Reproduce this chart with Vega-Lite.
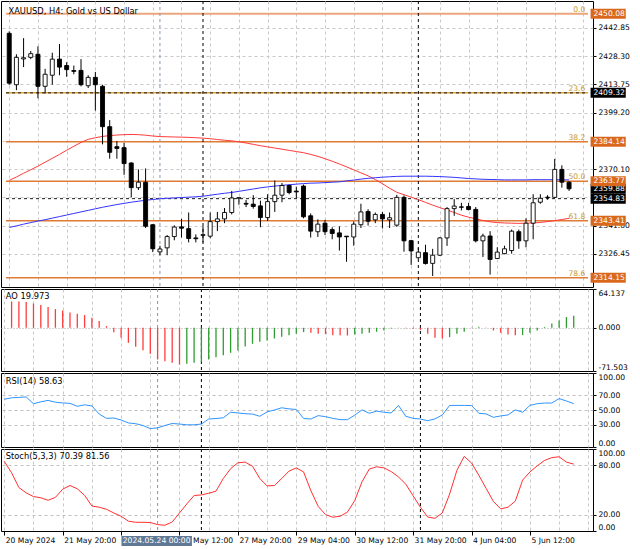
{
"$schema": "https://vega.github.io/schema/vega-lite/v6.json",
"padding": 0,
"background": "#ffffff",
"spacing": 2,
"bounds": "flush",
"config": {
 "view": {"stroke": "#000000", "strokeWidth": 1},
 "axis": {"labelFont": "DejaVu Sans", "labelFontSize": 7.6, "labelColor": "#000000", "gridColor": "#c8c8c8", "gridDash": [3,3], "gridWidth": 1, "tickColor": "#000000", "domain": false, "labelOverlap": false},
 "text": {"font": "DejaVu Sans"}
},
"datasets": {
 "bars": [
{"i":0,"o":2440.0,"h":2441.0,"l":2413.5,"c":2414.3,"mr":2364.2,"mb":2340.0,"rsi":64.5,"st":85},
{"i":1,"o":2413.5,"h":2429.2,"l":2410.7,"c":2427.6,"mr":2366.0,"mb":2340.8,"ao":43.5,"ad":"r","rsi":66.5,"st":71},
{"i":2,"o":2426.8,"h":2437.5,"l":2422.6,"c":2427.4,"mr":2367.9,"mb":2341.7,"ao":43.3,"ad":"r","rsi":67,"st":53},
{"i":3,"o":2427.6,"h":2430.9,"l":2426.7,"c":2429.5,"mr":2369.7,"mb":2342.5,"ao":42.5,"ad":"r","rsi":67.7,"st":46.5},
{"i":4,"o":2429.2,"h":2433.3,"l":2406.5,"c":2412.7,"mr":2371.6,"mb":2343.3,"ao":40.0,"ad":"r","rsi":58.5,"st":42},
{"i":5,"o":2412.7,"h":2421.7,"l":2409.0,"c":2418.9,"mr":2373.6,"mb":2344.0,"ao":37.6,"ad":"r","rsi":61,"st":40.5},
{"i":6,"o":2418.4,"h":2430.0,"l":2413.5,"c":2426.7,"mr":2375.6,"mb":2344.8,"ao":34.3,"ad":"r","rsi":63,"st":37.5},
{"i":7,"o":2426.7,"h":2434.5,"l":2418.4,"c":2422.6,"mr":2377.6,"mb":2345.6,"ao":30.9,"ad":"r","rsi":60.5,"st":41},
{"i":8,"o":2423.4,"h":2425.1,"l":2417.6,"c":2421.3,"mr":2379.8,"mb":2346.4,"ao":28.7,"ad":"r","rsi":59.5,"st":51},
{"i":9,"o":2420.8,"h":2423.4,"l":2418.9,"c":2420.4,"mr":2381.8,"mb":2347.2,"ao":25.4,"ad":"r","rsi":59,"st":55.5},
{"i":10,"o":2420.9,"h":2426.7,"l":2412.7,"c":2413.5,"mr":2383.8,"mb":2348.0,"ao":23.2,"ad":"r","rsi":55,"st":51.5},
{"i":11,"o":2413.0,"h":2418.4,"l":2411.8,"c":2417.3,"mr":2385.4,"mb":2348.8,"ao":21.0,"ad":"r","rsi":57,"st":43.5},
{"i":12,"o":2417.3,"h":2420.1,"l":2400.2,"c":2413.5,"mr":2386.2,"mb":2349.6,"ao":16.6,"ad":"r","rsi":55.5,"st":30.5},
{"i":13,"o":2412.7,"h":2413.5,"l":2382.8,"c":2391.9,"mr":2386.9,"mb":2350.4,"ao":11.0,"ad":"r","rsi":44.5,"st":29},
{"i":14,"o":2391.9,"h":2395.3,"l":2375.4,"c":2378.7,"mr":2387.3,"mb":2351.1,"ao":2.8,"ad":"r","rsi":38.7,"st":26.5},
{"i":15,"o":2381.6,"h":2384.5,"l":2375.4,"c":2380.7,"mr":2387.6,"mb":2351.8,"ao":-7.2,"ad":"r","rsi":39.2,"st":22},
{"i":16,"o":2381.1,"h":2383.6,"l":2367.1,"c":2372.9,"mr":2387.8,"mb":2352.4,"ao":-16.6,"ad":"r","rsi":36.5,"st":18},
{"i":17,"o":2373.2,"h":2373.6,"l":2355.5,"c":2360.5,"mr":2387.9,"mb":2353.0,"ao":-24.9,"ad":"r","rsi":32.5,"st":12},
{"i":18,"o":2360.5,"h":2369.9,"l":2359.3,"c":2363.3,"mr":2387.8,"mb":2353.5,"ao":-31.5,"ad":"r","rsi":31.5,"st":10.6},
{"i":19,"o":2363.3,"h":2370.4,"l":2339.7,"c":2340.6,"mr":2387.5,"mb":2354.0,"ao":-37.0,"ad":"r","rsi":29,"st":10.6},
{"i":20,"o":2341.4,"h":2341.8,"l":2327.3,"c":2329.0,"mr":2387.1,"mb":2354.4,"ao":-43.1,"ad":"r","rsi":24.9,"st":10.4},
{"i":21,"o":2327.4,"h":2330.6,"l":2325.7,"c":2328.9,"mr":2386.8,"mb":2354.8,"ao":-52.5,"ad":"r","rsi":25.9,"st":7.8},
{"i":22,"o":2329.5,"h":2336.1,"l":2325.7,"c":2335.3,"mr":2386.7,"mb":2355.0,"ao":-55.2,"ad":"r","rsi":29,"st":7},
{"i":23,"o":2335.3,"h":2341.1,"l":2333.4,"c":2340.2,"mr":2386.6,"mb":2355.2,"ao":-58.0,"ad":"r","rsi":31.8,"st":11},
{"i":24,"o":2340.3,"h":2344.4,"l":2334.8,"c":2339.6,"mr":2386.5,"mb":2355.4,"ao":-60.8,"ad":"r","rsi":31,"st":22},
{"i":25,"o":2339.4,"h":2347.7,"l":2332.3,"c":2334.3,"mr":2386.4,"mb":2355.6,"ao":-59.7,"ad":"g","rsi":30,"st":33},
{"i":26,"o":2334.6,"h":2336.4,"l":2332.3,"c":2334.2,"mr":2386.2,"mb":2355.8,"ao":-58.0,"ad":"g","rsi":30,"st":43.3},
{"i":27,"o":2335.9,"h":2340.6,"l":2332.3,"c":2336.3,"mr":2386.0,"mb":2356.1,"ao":-56.4,"ad":"g","rsi":31,"st":44},
{"i":28,"o":2335.5,"h":2347.7,"l":2334.4,"c":2343.0,"mr":2385.7,"mb":2356.6,"ao":-52.5,"ad":"g","rsi":37.8,"st":46},
{"i":29,"o":2343.0,"h":2348.0,"l":2338.1,"c":2344.4,"mr":2385.3,"mb":2357.1,"ao":-48.6,"ad":"g","rsi":38.5,"st":48.6},
{"i":30,"o":2344.4,"h":2350.0,"l":2342.2,"c":2347.7,"mr":2384.9,"mb":2357.6,"ao":-45.3,"ad":"g","rsi":39.5,"st":64},
{"i":31,"o":2347.7,"h":2358.8,"l":2346.7,"c":2355.2,"mr":2384.6,"mb":2358.0,"ao":-41.4,"ad":"g","rsi":47,"st":76},
{"i":32,"o":2355.1,"h":2355.4,"l":2351.7,"c":2355.3,"mr":2384.1,"mb":2358.6,"ao":-37.6,"ad":"g","rsi":46,"st":83.2},
{"i":33,"o":2352.4,"h":2354.2,"l":2350.5,"c":2352.0,"mr":2383.5,"mb":2359.2,"ao":-30.9,"ad":"g","rsi":45,"st":84},
{"i":34,"o":2352.0,"h":2356.6,"l":2349.7,"c":2350.8,"mr":2382.8,"mb":2359.8,"ao":-26.5,"ad":"g","rsi":44.5,"st":79},
{"i":35,"o":2351.1,"h":2353.8,"l":2340.1,"c":2345.1,"mr":2382.1,"mb":2360.4,"ao":-23.2,"ad":"g","rsi":41.5,"st":64},
{"i":36,"o":2345.1,"h":2357.1,"l":2343.3,"c":2353.3,"mr":2381.5,"mb":2360.9,"ao":-21.0,"ad":"g","rsi":47.5,"st":55},
{"i":37,"o":2353.3,"h":2364.2,"l":2348.0,"c":2356.6,"mr":2380.9,"mb":2361.3,"ao":-17.7,"ad":"g","rsi":50,"st":55.5},
{"i":38,"o":2356.6,"h":2362.9,"l":2353.0,"c":2361.6,"mr":2380.3,"mb":2361.7,"ao":-14.9,"ad":"g","rsi":53,"st":64},
{"i":39,"o":2361.6,"h":2362.1,"l":2357.1,"c":2358.0,"mr":2379.7,"mb":2362.0,"ao":-12.2,"ad":"g","rsi":51.5,"st":73},
{"i":40,"o":2358.7,"h":2361.0,"l":2355.0,"c":2358.3,"mr":2379.1,"mb":2362.3,"ao":-9.9,"ad":"g","rsi":50.7,"st":77},
{"i":41,"o":2361.3,"h":2362.1,"l":2344.7,"c":2345.5,"mr":2378.5,"mb":2362.6,"ao":-7.2,"ad":"g","rsi":38.5,"st":72},
{"i":42,"o":2346.0,"h":2347.2,"l":2334.8,"c":2338.1,"mr":2377.6,"mb":2362.8,"ao":-8.3,"ad":"r","rsi":37.8,"st":49},
{"i":43,"o":2337.8,"h":2344.2,"l":2335.1,"c":2341.7,"mr":2376.6,"mb":2362.9,"ao":-9.9,"ad":"r","rsi":42.4,"st":30},
{"i":44,"o":2342.2,"h":2343.9,"l":2336.1,"c":2337.8,"mr":2375.4,"mb":2363.1,"ao":-10.5,"ad":"r","rsi":41,"st":20},
{"i":45,"o":2338.9,"h":2340.1,"l":2333.9,"c":2336.9,"mr":2374.1,"mb":2363.3,"ao":-12.2,"ad":"r","rsi":38.7,"st":16.8},
{"i":46,"o":2337.2,"h":2340.6,"l":2328.1,"c":2335.1,"mr":2372.7,"mb":2363.5,"ao":-12.5,"ad":"r","rsi":37,"st":18},
{"i":47,"o":2335.5,"h":2335.6,"l":2322.3,"c":2335.2,"mr":2371.2,"mb":2364.0,"ao":-12.8,"ad":"r","rsi":36.9,"st":23},
{"i":48,"o":2335.1,"h":2343.1,"l":2330.6,"c":2341.7,"mr":2369.7,"mb":2364.4,"ao":-11.0,"ad":"g","rsi":43,"st":37},
{"i":49,"o":2341.4,"h":2352.2,"l":2339.7,"c":2348.0,"mr":2368.1,"mb":2364.9,"ao":-9.9,"ad":"g","rsi":50.2,"st":60},
{"i":50,"o":2348.2,"h":2349.4,"l":2341.0,"c":2343.2,"mr":2366.6,"mb":2365.3,"ao":-8.3,"ad":"g","rsi":45.6,"st":75.5},
{"i":51,"o":2343.9,"h":2347.7,"l":2342.2,"c":2346.7,"mr":2364.7,"mb":2365.6,"ao":-6.6,"ad":"g","rsi":48.4,"st":78.3},
{"i":52,"o":2346.7,"h":2348.0,"l":2339.5,"c":2344.4,"mr":2362.5,"mb":2365.9,"ao":-4.4,"ad":"g","rsi":47,"st":77},
{"i":53,"o":2343.9,"h":2347.7,"l":2339.7,"c":2345.0,"mr":2360.2,"mb":2366.1,"ao":-1.2,"ad":"g","rsi":46,"st":72.5},
{"i":54,"o":2341.2,"h":2356.8,"l":2340.3,"c":2355.5,"mr":2358.1,"mb":2366.3,"ao":-0.4,"ad":"g","rsi":56.2,"st":66},
{"i":55,"o":2355.5,"h":2356.5,"l":2327.5,"c":2333.1,"mr":2356.9,"mb":2366.4,"ao":-0.8,"ad":"r","rsi":41.5,"st":57},
{"i":56,"o":2333.2,"h":2333.6,"l":2320.7,"c":2327.9,"mr":2355.6,"mb":2366.4,"ao":-1.5,"ad":"r","rsi":38.7,"st":43},
{"i":57,"o":2324.4,"h":2329.5,"l":2323.8,"c":2327.3,"mr":2354.3,"mb":2366.4,"ao":-3.5,"ad":"r","rsi":37.8,"st":29},
{"i":58,"o":2327.0,"h":2331.1,"l":2320.9,"c":2321.4,"mr":2352.9,"mb":2366.4,"ao":-9.9,"ad":"r","rsi":35.5,"st":17},
{"i":59,"o":2321.5,"h":2329.0,"l":2315.0,"c":2325.7,"mr":2351.5,"mb":2366.3,"ao":-16.6,"ad":"r","rsi":38,"st":15.5},
{"i":60,"o":2325.7,"h":2335.0,"l":2325.3,"c":2334.6,"mr":2350.2,"mb":2366.2,"ao":-17.7,"ad":"r","rsi":43.3,"st":22},
{"i":61,"o":2334.6,"h":2350.5,"l":2330.5,"c":2349.7,"mr":2349.0,"mb":2366.0,"ao":-15.5,"ad":"g","rsi":56.2,"st":45},
{"i":62,"o":2349.7,"h":2354.6,"l":2346.0,"c":2351.0,"mr":2347.7,"mb":2365.8,"ao":-9.9,"ad":"g","rsi":56.2,"st":74},
{"i":63,"o":2350.6,"h":2352.7,"l":2348.8,"c":2350.4,"mr":2346.3,"mb":2365.5,"ao":-6.6,"ad":"g","rsi":56.2,"st":91},
{"i":64,"o":2350.8,"h":2352.7,"l":2348.8,"c":2349.2,"mr":2345.3,"mb":2365.2,"ao":-0.5,"ad":"g","rsi":56,"st":83},
{"i":65,"o":2349.3,"h":2350.5,"l":2332.3,"c":2333.1,"mr":2344.4,"mb":2365.0,"ao":1.5,"ad":"g","rsi":45.6,"st":68},
{"i":66,"o":2333.1,"h":2336.8,"l":2324.8,"c":2335.6,"mr":2343.6,"mb":2364.8,"ao":0.5,"ad":"r","rsi":44.7,"st":52},
{"i":67,"o":2335.6,"h":2338.1,"l":2315.7,"c":2323.5,"mr":2342.9,"mb":2364.7,"ao":-4.4,"ad":"r","rsi":40.1,"st":36},
{"i":68,"o":2324.0,"h":2329.8,"l":2324.0,"c":2327.3,"mr":2342.5,"mb":2364.6,"ao":-8.3,"ad":"r","rsi":42,"st":27},
{"i":69,"o":2326.5,"h":2330.6,"l":2326.2,"c":2329.0,"mr":2342.3,"mb":2364.5,"ao":-11.0,"ad":"r","rsi":43.3,"st":29},
{"i":70,"o":2328.1,"h":2338.9,"l":2326.5,"c":2338.1,"mr":2342.2,"mb":2364.5,"ao":-12.2,"ad":"r","rsi":50.2,"st":36.5},
{"i":71,"o":2337.8,"h":2338.9,"l":2329.0,"c":2333.1,"mr":2342.1,"mb":2364.5,"ao":-12.0,"ad":"g","rsi":47,"st":62},
{"i":72,"o":2333.1,"h":2344.7,"l":2329.8,"c":2342.2,"mr":2342.2,"mb":2364.5,"ao":-8.3,"ad":"g","rsi":56.2,"st":72},
{"i":73,"o":2342.2,"h":2357.1,"l":2333.9,"c":2352.7,"mr":2342.3,"mb":2364.6,"ao":-4.4,"ad":"g","rsi":58.5,"st":79.5},
{"i":74,"o":2353.0,"h":2357.1,"l":2352.2,"c":2355.0,"mr":2342.6,"mb":2364.6,"ao":1.5,"ad":"g","rsi":59.4,"st":86},
{"i":75,"o":2355.4,"h":2356.6,"l":2354.3,"c":2355.6,"mr":2343.0,"mb":2364.6,"ao":7.2,"ad":"g","rsi":59.4,"st":89.5},
{"i":76,"o":2355.5,"h":2375.3,"l":2355.0,"c":2369.9,"mr":2343.5,"mb":2364.6,"ao":12.2,"ad":"g","rsi":65.4,"st":90.5},
{"i":77,"o":2369.9,"h":2372.0,"l":2360.5,"c":2363.3,"mr":2344.1,"mb":2364.5,"ao":17.7,"ad":"g","rsi":62.2,"st":84},
{"i":78,"o":2363.3,"h":2363.8,"l":2358.8,"c":2359.9,"mr":2344.7,"mb":2364.5,"ao":20.0,"ad":"g","rsi":58.6,"st":81.6}
 ],
 "fib": [
  {"lvl":"0.0","p":2450.08},{"lvl":"23.6","p":2409.32},{"lvl":"38.2","p":2384.14},
  {"lvl":"50.0","p":2363.77},{"lvl":"61.8","p":2343.41},{"lvl":"78.6","p":2314.15}
 ],
 "hl": [{"p":2409.32},{"p":2354.83}],
 "vl": [{"i":21,"k":"cross"},{"i":27,"k":"sep"},{"i":57,"k":"sep"}],
 "tags": [
  {"p":2359.88,"k":"c"},{"p":2450.08,"k":"o"},{"p":2409.32,"k":"b"},{"p":2384.14,"k":"o"},
  {"p":2363.77,"k":"o"},{"p":2354.83,"k":"b"},{"p":2343.41,"k":"o"},{"p":2314.15,"k":"o"}
 ]
},
"vconcat": [
 {
  "width": 592, "height": 286,
  "layer": [
   {"data": {"name": "fib"}, "mark": {"type": "rule"},
    "encoding": {
     "x": {"datum": -0.45, "type": "quantitative", "scale": {"domain": [-0.45, 80.64], "nice": false, "zero": false}},
     "x2": {"datum": 80.64},
     "y": {"field": "p", "type": "quantitative", "title": null, "scale": {"domain": [2311.9, 2454.06], "nice": false, "zero": false},
       "axis": {"orient": "right", "values": [2326.45, 2341.0, 2355.55, 2370.1, 2384.65, 2399.2, 2413.75, 2428.3, 2442.85], "tickCount": 100,
         "labelExpr": "(abs(datum.value-2384.65)<0.01 || abs(datum.value-2355.55)<0.01) ? '' : format(datum.value, '.2f')",
         "grid": true, "tickSize": 3, "labelPadding": 2, "domain": false, "title": null, "labelFlush": false, "labelOverlap": false}},
     "stroke": {"condition": [{"test": "datum.lvl=='0.0'", "value": "#eca67c"}, {"test": "datum.lvl=='23.6'", "value": "#dca238"}], "value": "#e07b35"},
     "strokeWidth": {"condition": {"test": "datum.lvl=='0.0'", "value": 2}, "value": 1.5}
    }},
   {"data": {"name": "hl"}, "mark": {"type": "rule", "strokeDash": [3,3], "color": "#1a1a1a", "strokeWidth": 1},
    "encoding": {
     "x": {"datum": -0.45, "type": "quantitative", "scale": {"domain": [-0.45, 80.64], "nice": false, "zero": false}},
     "x2": {"datum": 80.64},
     "y": {"field": "p", "type": "quantitative", "title": null, "scale": {"domain": [2311.9, 2454.06], "nice": false, "zero": false}}
    }},
   {"data": {"name": "vl"}, "mark": {"type": "rule", "strokeDash": [3,3], "strokeWidth": 1},
    "encoding": {
     "x": {"field": "i", "type": "quantitative", "title": null, "scale": {"domain": [-0.45, 80.64], "nice": false, "zero": false},
       "axis": {"values": [0,4,8,12,16,20,24,28,32,36,40,44,48,52,56,60,64,68,72,76,80], "tickCount": 100, "grid": true, "labels": false, "ticks": false, "domain": false, "title": null}},
     "stroke": {"condition": {"test": "datum.k=='cross'", "value": "#8796ab"}, "value": "#000000"}}},
   {"data": {"name": "bars"}, "mark": {"type": "line", "color": "#ff3b3b", "strokeWidth": 1},
    "encoding": {
     "x": {"field": "i", "type": "quantitative", "title": null, "scale": {"domain": [-0.45, 80.64], "nice": false, "zero": false}},
     "y": {"field": "mr", "type": "quantitative", "title": null, "scale": {"domain": [2311.9, 2454.06], "nice": false, "zero": false}}}},
   {"data": {"name": "bars"}, "mark": {"type": "line", "color": "#3434ff", "strokeWidth": 1},
    "encoding": {
     "x": {"field": "i", "type": "quantitative", "title": null, "scale": {"domain": [-0.45, 80.64], "nice": false, "zero": false}},
     "y": {"field": "mb", "type": "quantitative", "title": null, "scale": {"domain": [2311.9, 2454.06], "nice": false, "zero": false}}}},
   {"data": {"name": "bars"}, "mark": {"type": "rule", "color": "#000000", "strokeWidth": 1},
    "encoding": {
     "x": {"field": "i", "type": "quantitative", "title": null, "scale": {"domain": [-0.45, 80.64], "nice": false, "zero": false}},
     "y": {"field": "l", "type": "quantitative", "title": null, "scale": {"domain": [2311.9, 2454.06], "nice": false, "zero": false}},
     "y2": {"field": "h"}
    }},
   {"data": {"name": "bars"}, "mark": {"type": "bar", "width": 4, "stroke": "#000000", "strokeWidth": 0.9},
    "encoding": {
     "x": {"field": "i", "type": "quantitative", "title": null, "scale": {"domain": [-0.45, 80.64], "nice": false, "zero": false}},
     "y": {"field": "o", "type": "quantitative", "title": null, "scale": {"domain": [2311.9, 2454.06], "nice": false, "zero": false}},
     "y2": {"field": "c"},
     "fill": {"condition": {"test": "datum.c >= datum.o", "value": "#ffffff"}, "value": "#000000"}
    }},
   {"data": {"name": "fib"}, "mark": {"type": "text", "align": "right", "baseline": "alphabetic", "dy": -2, "fontSize": 7.6, "color": "#c99a2e", "clip": true},
    "encoding": {
     "x": {"datum": 80.27, "type": "quantitative", "scale": {"domain": [-0.45, 80.64], "nice": false, "zero": false}},
     "y": {"field": "p", "type": "quantitative", "title": null, "scale": {"domain": [2311.9, 2454.06], "nice": false, "zero": false}},
     "text": {"field": "lvl", "type": "nominal"}
    }},
   {"data": {"name": "tags"}, "transform": [{"filter": "datum.k=='c'"}],
    "mark": {"type": "bar", "orient": "horizontal", "height": 10, "color": "#000000"},
    "encoding": {
     "x": {"datum": 81.0, "type": "quantitative", "scale": {"domain": [-0.45, 80.64], "nice": false, "zero": false}},
     "x2": {"datum": 85.9},
     "y": {"field": "p", "type": "quantitative", "title": null, "scale": {"domain": [2311.9, 2454.06], "nice": false, "zero": false}}
    }},
   {"data": {"name": "tags"}, "transform": [{"filter": "datum.k=='c'"}],
    "mark": {"type": "text", "align": "left", "baseline": "middle", "fontSize": 7.6, "color": "#ffffff"},
    "encoding": {
     "x": {"datum": 81.4, "type": "quantitative", "scale": {"domain": [-0.45, 80.64], "nice": false, "zero": false}},
     "y": {"field": "p", "type": "quantitative", "title": null, "scale": {"domain": [2311.9, 2454.06], "nice": false, "zero": false}},
     "text": {"field": "p", "type": "quantitative", "format": ".2f"}
    }},
   {"data": {"name": "tags"}, "transform": [{"filter": "datum.k!='c'"}],
    "mark": {"type": "bar", "orient": "horizontal", "height": 10},
    "encoding": {
     "x": {"datum": 81.0, "type": "quantitative", "scale": {"domain": [-0.45, 80.64], "nice": false, "zero": false}},
     "x2": {"datum": 85.9},
     "y": {"field": "p", "type": "quantitative", "title": null, "scale": {"domain": [2311.9, 2454.06], "nice": false, "zero": false}},
     "fill": {"condition": {"test": "datum.k=='b'", "value": "#000000"}, "value": "#d8681c"}
    }},
   {"data": {"name": "tags"}, "transform": [{"filter": "datum.k!='c'"}],
    "mark": {"type": "text", "align": "left", "baseline": "middle", "fontSize": 7.6, "color": "#ffffff"},
    "encoding": {
     "x": {"datum": 81.4, "type": "quantitative", "scale": {"domain": [-0.45, 80.64], "nice": false, "zero": false}},
     "y": {"field": "p", "type": "quantitative", "title": null, "scale": {"domain": [2311.9, 2454.06], "nice": false, "zero": false}},
     "text": {"field": "p", "type": "quantitative", "format": ".2f"}
    }},
   {"data": {"values": [{"t": "XAUUSD, H4:  Gold vs US Dollar"}]},
    "mark": {"type": "text", "align": "left", "baseline": "middle", "fontSize": 8.3, "color": "#000000"},
    "encoding": {
     "x": {"datum": -0.1, "type": "quantitative", "scale": {"domain": [-0.45, 80.64], "nice": false, "zero": false}},
     "y": {"datum": 2451.1, "type": "quantitative", "scale": {"domain": [2311.9, 2454.06], "nice": false, "zero": false}},
     "text": {"field": "t", "type": "nominal"}
    }}
  ]
 },
 {
  "width": 592, "height": 82,
  "layer": [
   {"data": {"name": "vl"}, "mark": {"type": "rule", "strokeDash": [3,3], "strokeWidth": 1},
    "encoding": {
     "x": {"field": "i", "type": "quantitative", "title": null, "scale": {"domain": [-0.45, 80.64], "nice": false, "zero": false},
       "axis": {"values": [0,4,8,12,16,20,24,28,32,36,40,44,48,52,56,60,64,68,72,76,80], "tickCount": 100, "grid": true, "labels": false, "ticks": false, "domain": false, "title": null}},
     "stroke": {"condition": {"test": "datum.k=='cross'", "value": "#8796ab"}, "value": "#000000"}}},
   {"data": {"name": "bars"}, "transform": [{"filter": "isValid(datum.ao)"}],
    "mark": {"type": "rule", "strokeWidth": 1.3},
    "encoding": {
     "x": {"field": "i", "type": "quantitative", "title": null, "scale": {"domain": [-0.45, 80.64], "nice": false, "zero": false}},
     "y": {"field": "ao", "type": "quantitative", "title": null, "scale": {"domain": [-71.503, 64.137], "nice": false, "zero": false},
       "axis": {"orient": "right", "values": [-71.503, 0, 64.137], "tickCount": 100, "labelExpr": "replace(format(datum.value, '.3f'), '\u2212', '-')", "grid": true, "gridDash": [1,2], "gridColor": {"condition": {"test": "datum.value == 0", "value": "#a8a8a8"}, "value": "rgba(0,0,0,0)"}, "tickSize": 3, "labelPadding": 2, "labelFlush": true, "labelOverlap": false, "domain": false, "title": null}},
     "y2": {"datum": 0},
     "stroke": {"condition": {"test": "datum.ad=='g'", "value": "#2f9d2f"}, "value": "#ff3c3c"}
    }},
   {"data": {"values": [{"t": "AO 19.973"}]},
    "mark": {"type": "text", "align": "left", "baseline": "middle", "fontSize": 8.3, "color": "#000000"},
    "encoding": {
     "x": {"datum": 0.2, "type": "quantitative", "scale": {"domain": [-0.45, 80.64], "nice": false, "zero": false}},
     "y": {"datum": 51.4, "type": "quantitative", "scale": {"domain": [-71.503, 64.137], "nice": false, "zero": false}},
     "text": {"field": "t", "type": "nominal"}
    }}
  ]
 },
 {
  "width": 592, "height": 74,
  "layer": [
   {"data": {"name": "vl"}, "mark": {"type": "rule", "strokeDash": [3,3], "strokeWidth": 1},
    "encoding": {
     "x": {"field": "i", "type": "quantitative", "title": null, "scale": {"domain": [-0.45, 80.64], "nice": false, "zero": false},
       "axis": {"values": [0,4,8,12,16,20,24,28,32,36,40,44,48,52,56,60,64,68,72,76,80], "tickCount": 100, "grid": true, "labels": false, "ticks": false, "domain": false, "title": null}},
     "stroke": {"condition": {"test": "datum.k=='cross'", "value": "#8796ab"}, "value": "#000000"}}},
   {"data": {"name": "bars"}, "mark": {"type": "line", "color": "#2e95ff", "strokeWidth": 1},
    "encoding": {
     "x": {"field": "i", "type": "quantitative", "title": null, "scale": {"domain": [-0.45, 80.64], "nice": false, "zero": false}},
     "y": {"field": "rsi", "type": "quantitative", "title": null, "scale": {"domain": [0, 100], "nice": false, "zero": false},
       "axis": {"orient": "right", "values": [0, 30, 50, 70, 100], "tickCount": 100, "format": ".2f", "grid": true, "gridColor": {"condition": {"test": "datum.value > 0 && datum.value < 100", "value": "#c0c0c0"}, "value": "rgba(0,0,0,0)"}, "tickSize": 3, "labelPadding": 2, "labelFlush": true, "labelOverlap": false, "domain": false, "title": null}}
    }},
   {"data": {"values": [{"t": "RSI(14) 58.63"}]},
    "mark": {"type": "text", "align": "left", "baseline": "middle", "fontSize": 8.3, "color": "#000000"},
    "encoding": {
     "x": {"datum": 0.2, "type": "quantitative", "scale": {"domain": [-0.45, 80.64], "nice": false, "zero": false}},
     "y": {"datum": 87.8, "type": "quantitative", "scale": {"domain": [0, 100], "nice": false, "zero": false}},
     "text": {"field": "t", "type": "nominal"}
    }}
  ]
 },
 {
  "width": 592, "height": 82,
  "layer": [
   {"data": {"name": "vl"}, "mark": {"type": "rule", "strokeDash": [3,3], "strokeWidth": 1},
    "encoding": {
     "x": {"field": "i", "type": "quantitative", "title": null, "scale": {"domain": [-0.45, 80.64], "nice": false, "zero": false},
       "axis": {"values": [0,4,8,12,16,20,24,28,32,36,40,44,48,52,56,60,64,68,72,76,80], "tickCount": 100, "grid": true, "domain": false, "title": null,
         "labelExpr": "datum.value==0?'20 May 2024':datum.value==8?'21 May 20:00':datum.value==24?'24 May 12:00':datum.value==32?'27 May 20:00':datum.value==40?'29 May 04:00':datum.value==48?'30 May 12:00':datum.value==56?'31 May 20:00':datum.value==64?'4 Jun 04:00':datum.value==72?'5 Jun 12:00':''",
         "labelAlign": "left", "labelBaseline": "top", "labelPadding": 1, "labelOffset": 1, "tickSize": 4,
         "tickColor": {"condition": {"test": "datum.value % 8 == 0 && datum.value <= 72", "value": "#000000"}, "value": "rgba(0,0,0,0)"},
         "labelFlush": false, "labelOverlap": false, "labelBound": false}},
     "stroke": {"condition": {"test": "datum.k=='cross'", "value": "#8796ab"}, "value": "#000000"}}},
   {"data": {"name": "bars"}, "mark": {"type": "line", "color": "#ff3030", "strokeWidth": 1},
    "encoding": {
     "x": {"field": "i", "type": "quantitative", "title": null, "scale": {"domain": [-0.45, 80.64], "nice": false, "zero": false}},
     "y": {"field": "st", "type": "quantitative", "title": null, "scale": {"domain": [0, 100], "nice": false, "zero": false},
       "axis": {"orient": "right", "values": [0, 20, 80, 100], "tickCount": 100, "format": ".2f", "grid": true, "gridColor": {"condition": {"test": "datum.value > 0 && datum.value < 100", "value": "#c0c0c0"}, "value": "rgba(0,0,0,0)"}, "tickSize": 3, "labelPadding": 2, "labelFlush": true, "labelOverlap": false, "domain": false, "title": null}}
    }},
   {"data": {"values": [{"t": "Stoch(5,3,3) 70.39 81.56"}]},
    "mark": {"type": "text", "align": "left", "baseline": "middle", "fontSize": 8.3, "color": "#000000"},
    "encoding": {
     "x": {"datum": 0.2, "type": "quantitative", "scale": {"domain": [-0.45, 80.64], "nice": false, "zero": false}},
     "y": {"datum": 90.2, "type": "quantitative", "scale": {"domain": [0, 100], "nice": false, "zero": false}},
     "text": {"field": "t", "type": "nominal"}
    }},
   {"data": {"values": [{"t": "2024.05.24 00:00"}]},
    "mark": {"type": "rect", "color": "#5f7894"},
    "encoding": {
     "x": {"datum": 16.05, "type": "quantitative", "scale": {"domain": [-0.45, 80.64], "nice": false, "zero": false}},
     "x2": {"datum": 25.7},
     "y": {"datum": -6.1, "type": "quantitative", "scale": {"domain": [0, 100], "nice": false, "zero": false}},
     "y2": {"datum": -18.3}
    }},
   {"data": {"values": [{"t": "2024.05.24 00:00"}]},
    "mark": {"type": "text", "align": "center", "baseline": "middle", "fontSize": 7.6, "color": "#ffffff"},
    "encoding": {
     "x": {"datum": 20.87, "type": "quantitative", "scale": {"domain": [-0.45, 80.64], "nice": false, "zero": false}},
     "y": {"datum": -12.2, "type": "quantitative", "scale": {"domain": [0, 100], "nice": false, "zero": false}},
     "text": {"field": "t", "type": "nominal"}
    }}
  ]
 }
]
}
